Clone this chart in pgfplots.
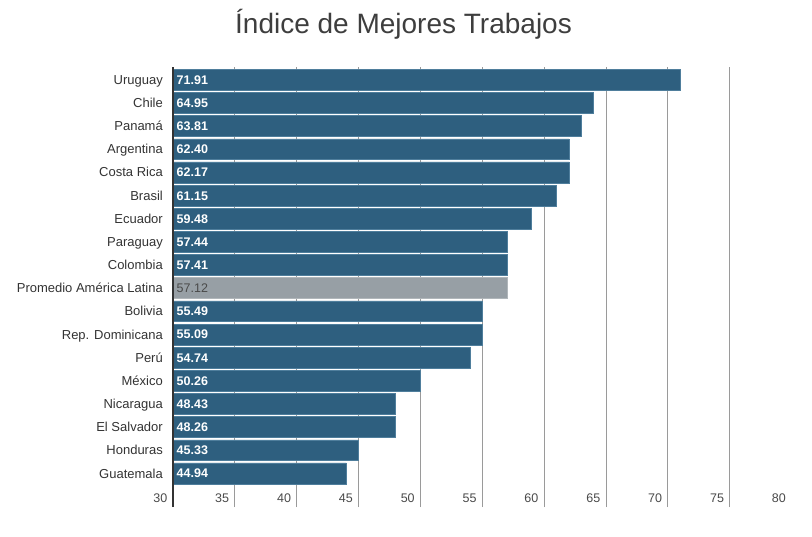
\documentclass[border=0pt]{standalone}
\usepackage{pgfplots}
\pgfplotsset{compat=1.18}
\usepackage{pgfplotstable}
\usepackage{fontspec}
\setmainfont{Liberation Sans}
\definecolor{barblue}{HTML}{2E5F7F}
\definecolor{baredge}{HTML}{4F7E9C}
\definecolor{bargray}{HTML}{979FA5}
\definecolor{grayedge}{HTML}{B0B6BA}
\definecolor{gridgray}{HTML}{9A9A9A}
\definecolor{txtdark}{HTML}{333333}
\definecolor{txtgray}{HTML}{4A4A4A}
\definecolor{titlecol}{HTML}{3E3E3E}

\pgfplotstableread[col sep=comma]{
y,val,start,lab
17,71,30,71.91
16,64,30,64.95
15,63,30,63.81
14,62,30,62.40
13,62,30,62.17
12,61,30,61.15
11,59,30,59.48
10,57,30,57.44
9,57,30,57.41
7,55,30,55.49
6,55,30,55.09
5,54,30,54.74
4,50,30,50.26
3,48,30,48.43
2,48,30,48.26
1,45,30,45.33
0,44,30,44.94
}\bluedata

\pgfplotstableread[col sep=comma]{
y,val,start,lab
8,57,30,57.12
}\graydata

\begin{document}
\begin{tikzpicture}
\begin{axis}[
  at={(0,0)}, anchor=south west,
  scale only axis,
  width=618.5bp, height=440bp,
  xmin=30, xmax=80,
  ymin=-1.45, ymax=17.55,
  xbar, bar width=0.9, bar shift=0pt,
  axis y line*=left, axis x line*=bottom,
  x axis line style={draw=none},
  y axis line style={draw=none},
  major tick length=0pt,
  xtick={35,40,...,75},
  extra x ticks={30,80},
  extra x tick style={grid=none},
  xmajorgrids=true,
  major grid style={draw=gridgray, line width=0.8bp},
  ytick={0,...,17},
  yticklabels={Guatemala,Honduras,El Salvador,Nicaragua,México,Perú,Rep. Dominicana,Bolivia,Promedio América Latina,Colombia,Paraguay,Ecuador,Brasil,Costa Rica,Argentina,Panamá,Chile,Uruguay},
  yticklabel style={anchor=base east, inner sep=0pt, xshift=-10bp, yshift=-4.6bp, text=txtdark, font=\fontsize{13bp}{15bp}\selectfont},
  xticklabel style={anchor=base east, inner sep=0pt, xshift=-5.5bp, yshift=4.5bp, text=txtgray, font=\fontsize{12.5bp}{15bp}\selectfont},
  /pgf/number format/assume math mode=true,
]
\addplot[fill=barblue, draw=baredge, line width=0.5bp] table[x=val, y=y] {\bluedata};
\addplot[fill=bargray, draw=grayedge, line width=0.5bp] table[x=val, y=y] {\graydata};
\addplot[draw=none, mark=none, only marks, xbar=false,
  point meta=explicit symbolic,
  nodes near coords={\pgfplotspointmeta},
  nodes near coords style={anchor=base west, inner sep=0pt, xshift=3.5bp, yshift=-4.5bp, text=white, font=\bfseries\fontsize{12.5bp}{15bp}\selectfont}]
  table[x=start, y=y, meta=lab] {\bluedata};
\addplot[draw=none, mark=none, only marks, xbar=false,
  point meta=explicit symbolic,
  nodes near coords={\pgfplotspointmeta},
  nodes near coords style={anchor=base west, inner sep=0pt, xshift=3.5bp, yshift=-4.5bp, text=txtgray, font=\fontsize{12.5bp}{15bp}\selectfont}]
  table[x=start, y=y, meta=lab] {\graydata};
\end{axis}
\draw[txtdark, line width=1.5bp] (0,0) -- (0,440bp);
\node[anchor=base, text=titlecol, font=\fontsize{28bp}{32bp}\selectfont, inner sep=0pt] at (230.5bp,473.5bp) {Índice de Mejores Trabajos};
\pgfresetboundingbox
\path (-173bp,-30bp) rectangle (639bp,507bp);
\end{tikzpicture}
\end{document}
